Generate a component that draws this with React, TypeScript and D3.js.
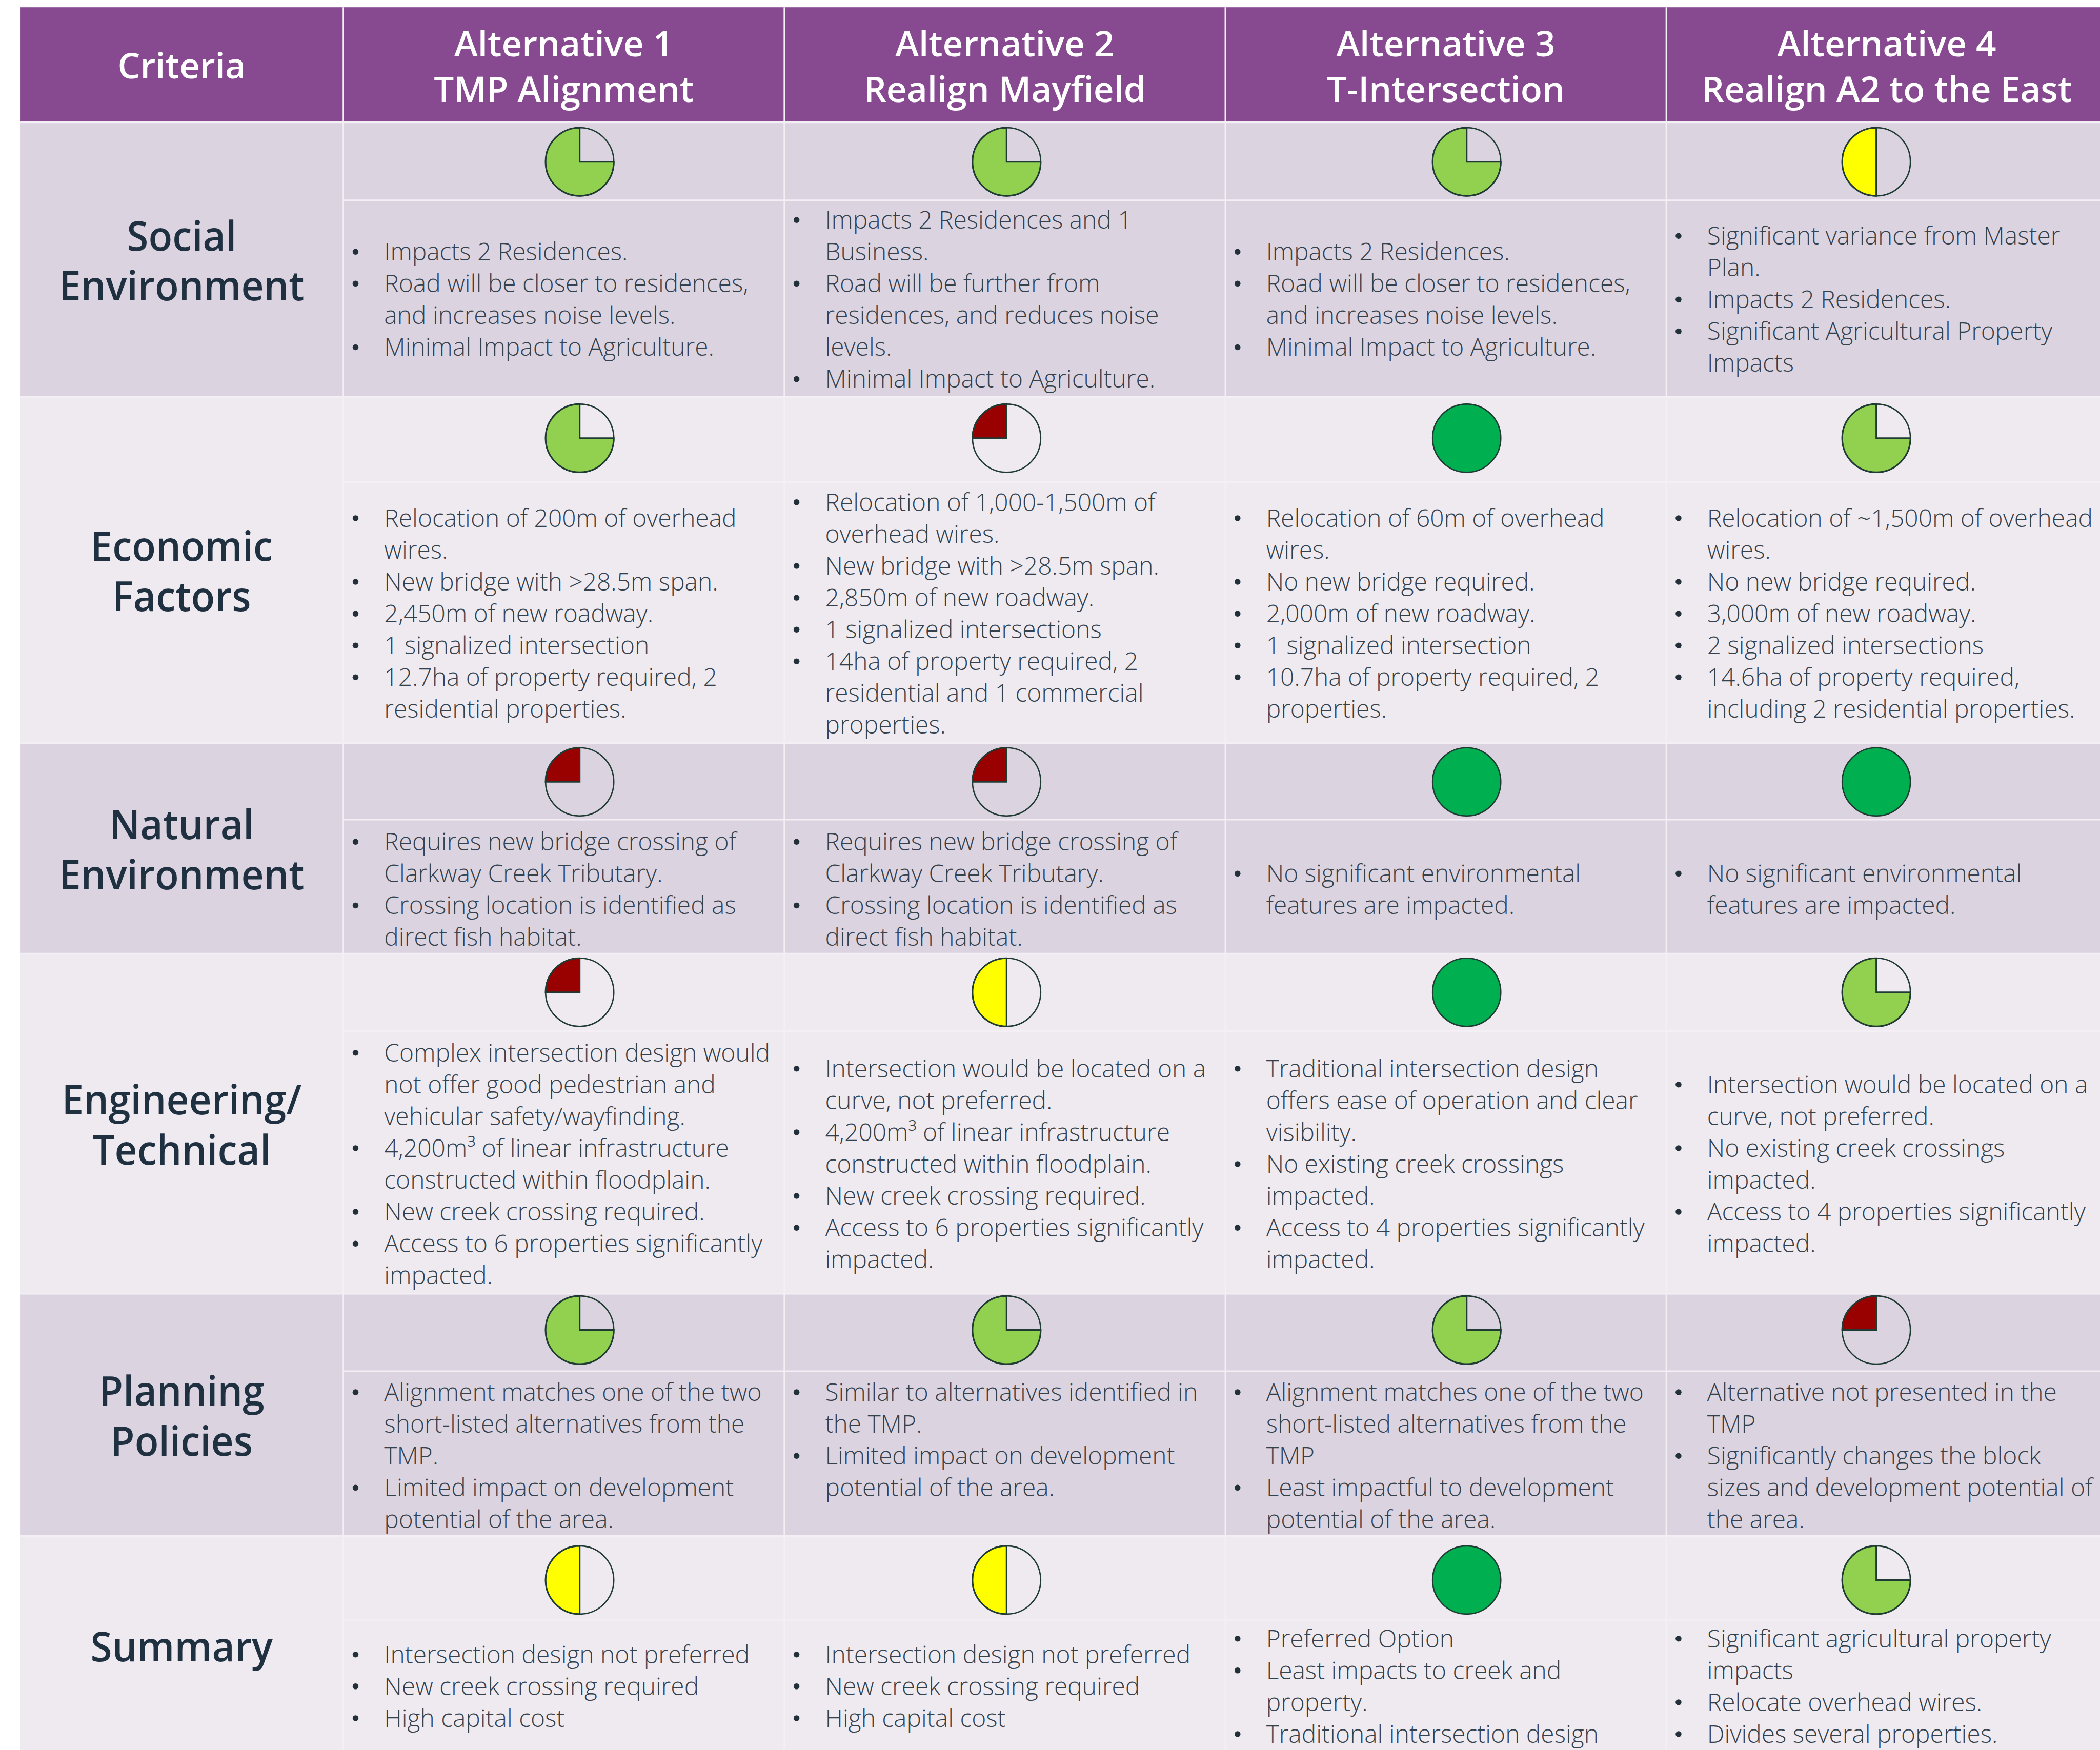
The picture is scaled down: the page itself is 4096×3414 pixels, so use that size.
import React from "react";
import * as d3 from "d3";

// reference pixel size, the svg viewBox scales it down to the window
const refWidth = 4619;
const refHeight = 3850;

const criteria = ["Social|Environment", "Economic|Factors", "Natural|Environment", "Engineering/|Technical", "Planning|Policies", "Summary"];
const alternatives = ["Alternative 1|TMP Alignment", "Alternative 2|Realign Mayfield", "Alternative 3|T-Intersection", "Alternative 4|Realign A2 to the East"];

// quarters filled in the rating circle, one row per criterion
const socialRatings = [3, 3, 3, 2];
const economicRatings = [3, 1, 4, 3];
const naturalRatings = [1, 1, 4, 4];
const engineeringRatings = [1, 2, 4, 3];
const planningRatings = [3, 3, 3, 1];
const summaryRatings = [2, 2, 4, 3];
const ratings = [socialRatings, economicRatings, naturalRatings, engineeringRatings, planningRatings, summaryRatings];

// each cell is a list of bullets, | marks a line wrap
const socialText = [
  ["Impacts 2 Residences.", "Road will be closer to residences,|and increases noise levels.", "Minimal Impact to Agriculture."],
  ["Impacts 2 Residences and 1|Business.", "Road will be further from|residences, and reduces noise|levels.", "Minimal Impact to Agriculture."],
  ["Impacts 2 Residences.", "Road will be closer to residences,|and increases noise levels.", "Minimal Impact to Agriculture."],
  ["Significant variance from Master|Plan.", "Impacts 2 Residences.", "Significant Agricultural Property|Impacts"],
];
const economicText = [
  ["Relocation of 200m of overhead|wires.", "New bridge with >28.5m span.", "2,450m of new roadway.", "1 signalized intersection", "12.7ha of property required, 2|residential properties."],
  ["Relocation of 1,000-1,500m of|overhead wires.", "New bridge with >28.5m span.", "2,850m of new roadway.", "1 signalized intersections", "14ha of property required, 2|residential and 1 commercial|properties."],
  ["Relocation of 60m of overhead|wires.", "No new bridge required.", "2,000m of new roadway.", "1 signalized intersection", "10.7ha of property required, 2|properties."],
  ["Relocation of ~1,500m of overhead|wires.", "No new bridge required.", "3,000m of new roadway.", "2 signalized intersections", "14.6ha of property required,|including 2 residential properties."],
];
const naturalText = [
  ["Requires new bridge crossing of|Clarkway Creek Tributary.", "Crossing location is identified as|direct fish habitat."],
  ["Requires new bridge crossing of|Clarkway Creek Tributary.", "Crossing location is identified as|direct fish habitat."],
  ["No significant environmental|features are impacted."],
  ["No significant environmental|features are impacted."],
];
const engineeringText = [
  ["Complex intersection design would|not offer good pedestrian and|vehicular safety/wayfinding.", "4,200m³ of linear infrastructure|constructed within floodplain.", "New creek crossing required.", "Access to 6 properties significantly|impacted."],
  ["Intersection would be located on a|curve, not preferred.", "4,200m³ of linear infrastructure|constructed within floodplain.", "New creek crossing required.", "Access to 6 properties significantly|impacted."],
  ["Traditional intersection design|offers ease of operation and clear|visibility.", "No existing creek crossings|impacted.", "Access to 4 properties significantly|impacted."],
  ["Intersection would be located on a|curve, not preferred.", "No existing creek crossings|impacted.", "Access to 4 properties significantly|impacted."],
];
const planningText = [
  ["Alignment matches one of the two|short-listed alternatives from the|TMP.", "Limited impact on development|potential of the area."],
  ["Similar to alternatives identified in|the TMP.", "Limited impact on development|potential of the area."],
  ["Alignment matches one of the two|short-listed alternatives from the|TMP", "Least impactful to development|potential of the area."],
  ["Alternative not presented in the|TMP", "Significantly changes the block|sizes and development potential of|the area."],
];
const summaryText = [
  ["Intersection design not preferred", "New creek crossing required", "High capital cost"],
  ["Intersection design not preferred", "New creek crossing required", "High capital cost"],
  ["Preferred Option", "Least impacts to creek and|property.", "Traditional intersection design"],
  ["Significant agricultural property|impacts", "Relocate overhead wires.", "Divides several properties."],
];
const cellText = [socialText, economicText, naturalText, engineeringText, planningText, summaryText];

// layout, in reference pixels
const tableLeft = 44;
const tableTop = 16;
const headerBottom = 269;
const firstColRight = 755;
const colWidth = 970;
const rowBottoms = [873, 1635, 2098, 2846, 3379, 3860];
const rowSplits = [441, 1061, 1803, 2268, 3017, 3565];
const ballY = [356, 964, 1720, 2183, 2926, 3476];
const ballOffset = [35, 4, 46, -23];
const textCenterY = [659, 1350, 1957, 2561, 3203, 3710];
const ballRadius = 75;
const lineGap = 70;

const ratingColor: Record<number, string> = { 1: "#990000", 2: "#FFFF00", 3: "#92D050", 4: "#00B050" };

const bodyFont = "'Open Sans', sans-serif";

const colX = d3
  .scaleBand<number>()
  .domain(d3.range(alternatives.length))
  .range([firstColRight, firstColRight + colWidth * alternatives.length]);

const arc = d3.arc<d3.PieArcDatum<number>>().innerRadius(0).outerRadius(ballRadius);
// fills counter clockwise from 12 o'clock
const pie = d3.pie<number>().sort(null).startAngle(0).endAngle(-2 * Math.PI);

function Ball({ cx, cy, score }: { cx: number; cy: number; score: number }) {
  const stroke = "#1f3b33";
  if (score === 4) {
    return <circle cx={cx} cy={cy} r={ballRadius} fill={ratingColor[4]} stroke={stroke} strokeWidth={3} />;
  }
  const slices = pie([score, 4 - score]);
  return (
    <g transform={`translate(${cx},${cy})`}>
      <circle r={ballRadius} fill="none" stroke={stroke} strokeWidth={3} />
      <path d={arc(slices[0]) || ""} fill={ratingColor[score]} stroke={stroke} strokeWidth={3.5} />
    </g>
  );
}

function Cell({ bullets, x, centerY }: { bullets: string[]; x: number; centerY: number }) {
  const total = d3.sum(bullets, (b) => b.split("|").length);
  let y = centerY - ((total - 1) / 2) * lineGap;
  return (
    <g>
      {bullets.map((bullet, i) => {
        const lines = bullet.split("|");
        const startY = y;
        y += lines.length * lineGap;
        return (
          <g key={i}>
            <circle cx={x + 27} cy={startY} r={6.5} fill="#22303a" />
            {lines.map((line, j) => (
              <text
                key={j}
                x={x + 90}
                y={startY + j * lineGap + 19}
                fontFamily={bodyFont}
                fontWeight={300}
                fontSize={54}
                fill="#34424e"
              >
                {line}
              </text>
            ))}
          </g>
        );
      })}
    </g>
  );
}

export default function App() {
  const tableRight = firstColRight + colWidth * alternatives.length;
  const rowTops = [headerBottom, ...rowBottoms.slice(0, -1)];
  const labelX = (tableLeft + firstColRight) / 2;
  return (
    <svg
      width={4096}
      height={3414}
      viewBox={`0 0 ${refWidth} ${refHeight}`}
      style={{ position: "absolute", left: 0, top: 0, background: "#fff" }}
    >
      <rect x={tableLeft} y={tableTop} width={tableRight - tableLeft} height={headerBottom - tableTop} fill="#874a91" />
      {rowTops.map((top, r) => (
        <rect key={r} x={tableLeft} y={top} width={tableRight - tableLeft} height={rowBottoms[r] - top} fill={r % 2 ? "#eeeaf0" : "#dbd3e0"} />
      ))}

      {/* grid lines */}
      {rowBottoms.slice(0, -1).concat(headerBottom).map((y) => (
        <line key={y} x1={tableLeft} x2={tableRight} y1={y} y2={y} stroke="#f3eff5" strokeWidth={4} />
      ))}
      {rowSplits.map((y) => (
        <line key={y} x1={firstColRight} x2={tableRight} y1={y} y2={y} stroke="#f3eff5" strokeWidth={4} />
      ))}
      {alternatives.map((_, c) => (
        <line key={c} x1={colX(c)} x2={colX(c)} y1={tableTop} y2={refHeight} stroke="#f3eff5" strokeWidth={3} />
      ))}

      {/* header */}
      <text x={labelX} y={173} textAnchor="middle" fontFamily={bodyFont} fontWeight={600} fontSize={78} fill="#fff">
        Criteria
      </text>
      {alternatives.map((name, c) => {
        const cx = (colX(c) as number) + colX.bandwidth() / 2;
        return name.split("|").map((line, j) => (
          <text key={line} x={cx} y={124 + j * 100} textAnchor="middle" fontFamily={bodyFont} fontWeight={600} fontSize={78} fill="#fff">
            {line}
          </text>
        ));
      })}

      {/* row labels */}
      {criteria.map((name, r) => {
        const lines = name.split("|");
        const cy = (rowTops[r] + rowBottoms[r]) / 2;
        return (
          <text
            key={name}
            transform={`translate(${labelX},${cy + 35}) scale(0.96,1)`}
            textAnchor="middle"
            fontFamily={bodyFont}
            fontWeight={600}
            fontSize={90}
            fill="#1f3041"
          >
            {lines.map((line, j) => (
              <tspan key={line} x={0} y={(j - (lines.length - 1) / 2) * 110}>
                {line}
              </tspan>
            ))}
          </text>
        );
      })}

      {/* ratings and bullet text */}
      {ratings.map((row, r) =>
        row.map((score, c) => {
          // the second Planning cell sits at the top of its band in the reference
          const centerY = r === 4 && c === 1 ? textCenterY[r] - lineGap / 2 : textCenterY[r];
          return (
            <g key={`${r}-${c}`}>
              <Ball cx={(colX(c) as number) + colX.bandwidth() / 2 + ballOffset[c]} cy={ballY[r]} score={score} />
              <Cell bullets={cellText[r][c]} x={colX(c) as number} centerY={centerY} />
            </g>
          );
        })
      )}
    </svg>
  );
}
